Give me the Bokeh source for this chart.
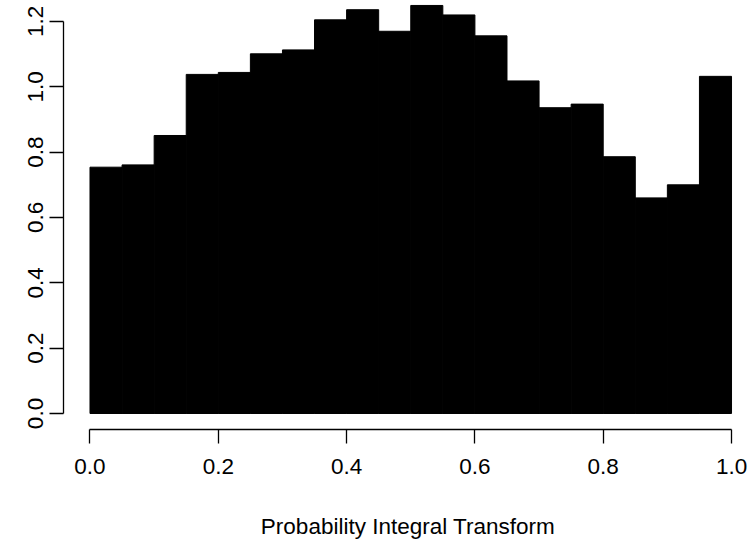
from bokeh.plotting import figure
from bokeh.models import Range1d, FixedTicker, PrintfTickFormatter
from bokeh.embed import file_html
from bokeh.resources import INLINE

# Histogram of PIT values: 20 equal-width bins on [0, 1], heights as densities
bin_edges = [0.00, 0.05, 0.10, 0.15, 0.20, 0.25, 0.30, 0.35, 0.40, 0.45,
             0.50, 0.55, 0.60, 0.65, 0.70, 0.75, 0.80, 0.85, 0.90, 0.95, 1.00]
density = [0.754, 0.761, 0.851, 1.038, 1.044, 1.101, 1.113, 1.205, 1.236, 1.170,
           1.249, 1.220, 1.156, 1.018, 0.936, 0.947, 0.786, 0.660, 0.700, 1.032]
x_ticks = [0.0, 0.2, 0.4, 0.6, 0.8, 1.0]
y_ticks = [0.0, 0.2, 0.4, 0.6, 0.8, 1.0, 1.2]
x_label = "Probability Integral Transform"

FONT = "Liberation Sans"
FS = "22.5px"

p = figure(width=752, height=548, output_backend="svg", toolbar_location=None,
           x_range=Range1d(-0.0413, 1.0327), y_range=Range1d(-0.0490, 1.2642),
           min_border_left=63, min_border_bottom=119, min_border_top=0, min_border_right=0,
           x_axis_location="below", y_axis_location="left")
p.outline_line_color = None
p.background_fill_color = "white"
p.border_fill_color = "white"
p.xgrid.visible = False
p.ygrid.visible = False

p.quad(left=bin_edges[:-1], right=bin_edges[1:], bottom=0, top=density,
       fill_color="black", line_color="black", line_width=1)

for ax in (p.xaxis[0], p.yaxis[0]):
    ax.axis_line_color = "black"
    ax.axis_line_width = 1.3
    ax.major_tick_line_color = "black"
    ax.major_tick_line_width = 1.3
    ax.major_tick_in = 0
    ax.major_tick_out = 14
    ax.minor_tick_line_color = None
    ax.major_label_text_font = FONT
    ax.major_label_text_font_size = FS
    ax.major_label_text_color = "black"
    ax.formatter = PrintfTickFormatter(format="%.1f")

xa = p.xaxis[0]
xa.ticker = FixedTicker(ticks=x_ticks)
xa.bounds = (0, 1)
xa.major_label_standoff = 15
xa.axis_label = x_label
xa.axis_label_text_font = FONT
xa.axis_label_text_font_size = FS
xa.axis_label_text_font_style = "normal"
xa.axis_label_text_color = "black"
xa.axis_label_standoff = 37

ya = p.yaxis[0]
ya.ticker = FixedTicker(ticks=y_ticks)
ya.bounds = (0, 1.2)
ya.major_label_orientation = "vertical"
ya.major_label_standoff = 6

open("out.html", "w").write(file_html(p, INLINE))
